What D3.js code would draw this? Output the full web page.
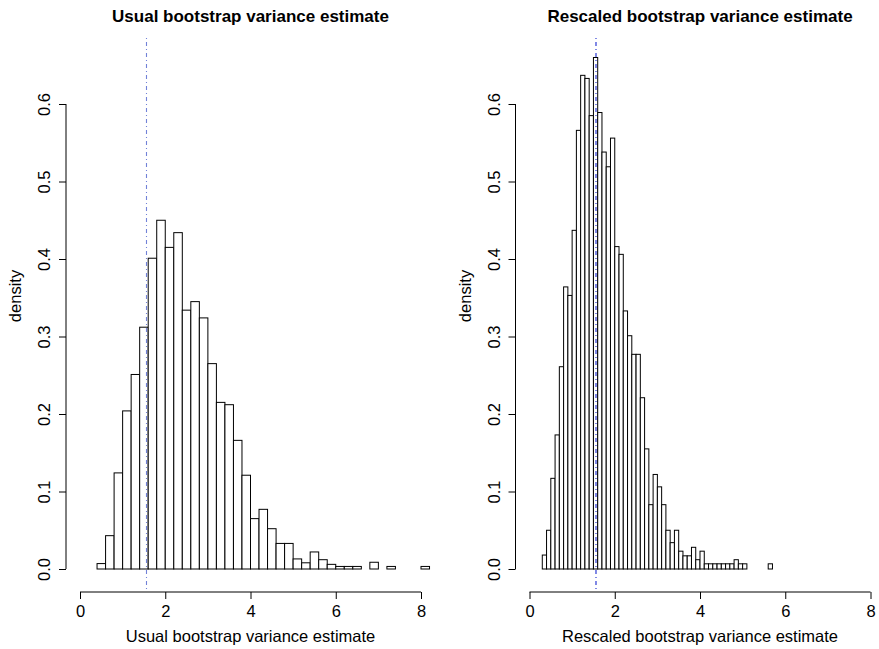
<!DOCTYPE html>
<html>
<head>
<meta charset="utf-8">
<script src="https://cdn.jsdelivr.net/npm/d3@7/dist/d3.min.js"></script>
<style>
  body { margin: 0; background: #fff; }
  svg { font-family: "Liberation Sans", Arial, Helvetica, sans-serif; }
</style>
</head>
<body>
<div id="chart"></div>
<script>
// usual bootstrap histogram: bins of width 0.2 starting at 0.4
const usualStart = 0.4;
const usualBinWidth = 0.2;
const usualDensity = [
  0.007, 0.043, 0.124, 0.204, 0.251, 0.312, 0.401, 0.450, 0.415, 0.434,
  0.334, 0.345, 0.324, 0.265, 0.215, 0.212, 0.166, 0.121, 0.065, 0.077,
  0.052, 0.033, 0.033, 0.013, 0.008, 0.022, 0.012, 0.006, 0.0033, 0.0033,
  0.0033, 0, 0.0087, 0, 0.0033, 0, 0, 0, 0.0033
];

// rescaled bootstrap histogram: bins of width 0.1 starting at 0.3
const rescaledStart = 0.3;
const rescaledBinWidth = 0.1;
const rescaledDensity = [
  0.018, 0.050, 0.117, 0.173, 0.261, 0.364, 0.353, 0.437, 0.566, 0.637,
  0.633, 0.585, 0.660, 0.589, 0.538, 0.519, 0.556, 0.416, 0.406, 0.333,
  0.301, 0.277, 0.277, 0.221, 0.155, 0.083, 0.122, 0.106, 0.083, 0.050,
  0.034, 0.050, 0.023, 0.017, 0.017, 0.028, 0.012, 0.023, 0.0067, 0.0067,
  0.0067, 0.0067, 0.0067, 0.0067, 0.0067, 0.012, 0.0067, 0.0067, 0, 0,
  0, 0, 0, 0.0067
];

// reference value marked by the dot-dash line
const refValue = 1.56;

const xTicks = [0, 2, 4, 6, 8];
const yTicks = [0, 0.1, 0.2, 0.3, 0.4, 0.5, 0.6];

const width = 879, height = 649;

const svg = d3.select('#chart').append('svg')
  .attr('width', width)
  .attr('height', height);

function drawPanel(dx, title, xlab, start, binWidth, density, lineColor) {
  const x = d3.scaleLinear().domain([0, 8]).range([80 + dx, 421 + dx]);
  const y = d3.scaleLinear().domain([0, 0.6]).range([569, 104]);
  const axisX = 66 + dx;
  const axisY = 592;

  const g = svg.append('g');

  // bars
  const bins = density.map((d, i) => ({ x0: start + i * binWidth, x1: start + (i + 1) * binWidth, d: d }));
  g.append('g').selectAll('rect')
    .data(bins)
    .enter().append('rect')
      .attr('x', (b) => x(b.x0))
      .attr('y', (b) => y(b.d))
      .attr('width', (b) => x(b.x1) - x(b.x0))
      .attr('height', (b) => y(0) - y(b.d))
      .attr('fill', '#fff')
      .attr('stroke', '#000')
      .attr('stroke-width', 1);

  // x axis
  const xAxis = g.append('g').attr('transform', `translate(0,${axisY})`)
    .call(d3.axisBottom(x).tickValues(xTicks).tickSize(7).tickSizeOuter(0).tickFormat(d3.format('d')));
  xAxis.select('.domain').attr('d', `M${x(0)},0H${x(8)}`);
  xAxis.selectAll('text').attr('font-size', 16.5).attr('font-family', null).attr('fill', '#000').attr('dy', null).attr('y', 25);

  // y axis
  const yAxis = g.append('g').attr('transform', `translate(${axisX},0)`)
    .call(d3.axisLeft(y).tickValues(yTicks).tickSize(7).tickSizeOuter(0).tickFormat(d3.format('.1f')));
  yAxis.select('.domain').attr('d', `M0,${y(0)}V${y(0.6)}`);
  yAxis.selectAll('.tick text')
    .attr('font-size', 16.5).attr('font-family', null).attr('fill', '#000')
    .attr('x', null).attr('dy', null)
    .attr('text-anchor', 'middle')
    .attr('transform', 'translate(-16,0) rotate(-90)');

  // reference line
  g.append('line')
    .attr('x1', x(refValue)).attr('x2', x(refValue))
    .attr('y1', 38).attr('y2', 590)
    .attr('stroke', lineColor)
    .attr('stroke-width', 1.1)
    .attr('stroke-dasharray', '1,3,4,3');

  // titles
  g.append('text')
    .attr('x', (x(0) + x(8)) / 2).attr('y', 22)
    .attr('text-anchor', 'middle')
    .attr('font-size', 17).attr('font-weight', 'bold')
    .text(title);
  g.append('text')
    .attr('x', (x(0) + x(8)) / 2).attr('y', 642)
    .attr('text-anchor', 'middle')
    .attr('font-size', 16.5)
    .text(xlab);
  g.append('text')
    .attr('transform', `translate(${axisX - 45},296) rotate(-90)`)
    .attr('text-anchor', 'middle')
    .attr('font-size', 16.5)
    .text('density');
}

drawPanel(0, 'Usual bootstrap variance estimate', 'Usual bootstrap variance estimate',
  usualStart, usualBinWidth, usualDensity, '#7282d8');
drawPanel(449.5, 'Rescaled bootstrap variance estimate', 'Rescaled bootstrap variance estimate',
  rescaledStart, rescaledBinWidth, rescaledDensity, '#1a2ad0');
</script>
</body>
</html>
